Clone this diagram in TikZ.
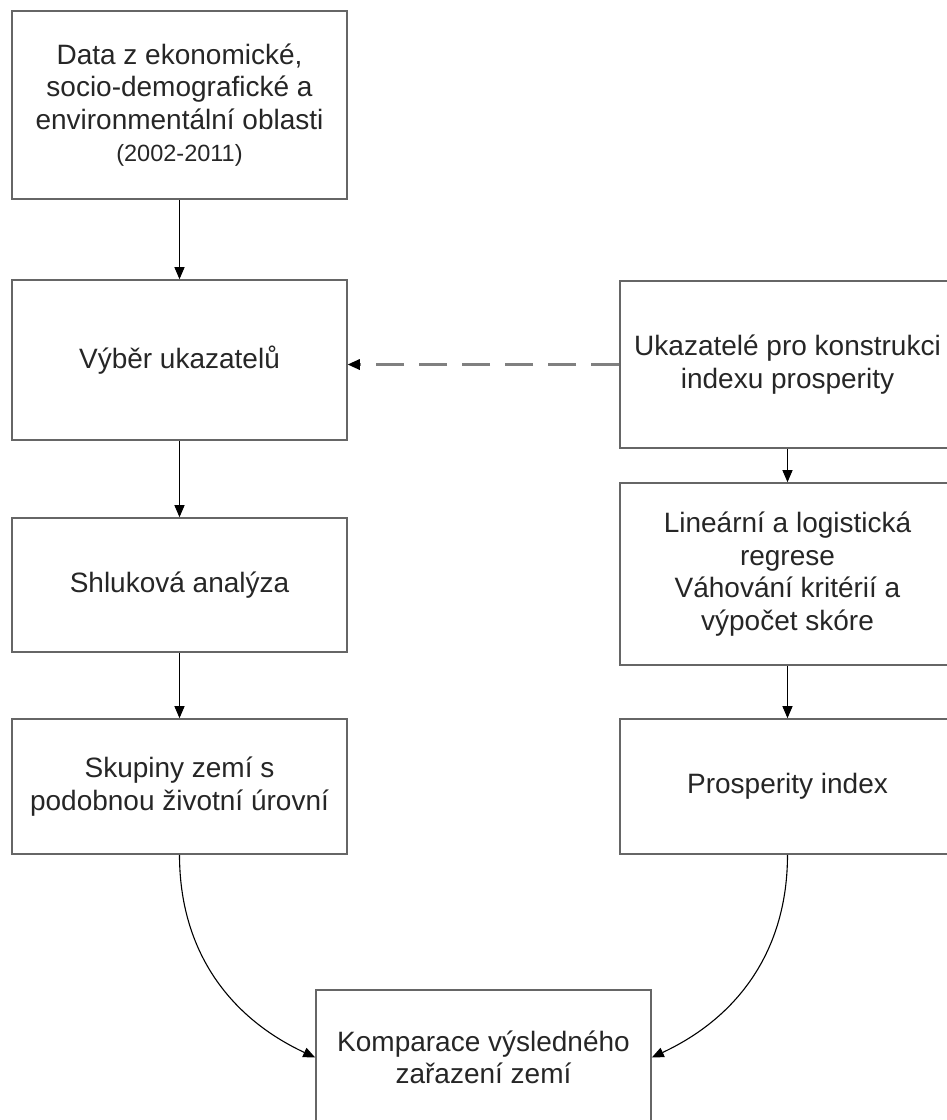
\documentclass[tikz,border=0pt]{standalone}
\usepackage{fontspec}
\setmainfont{Liberation Sans}
\usetikzlibrary{arrows.meta}

\begin{document}
\begin{tikzpicture}[x=1pt, y=-1pt]
		\tikzset{box/.style={rectangle, draw=black!60, line width=1.6pt, minimum width=335pt, align=center, text=black!85, font=\fontsize{28}{32.5}\selectfont},
			arr/.style={line width=1.1pt, -{Triangle[length=12pt, width=10pt]}},
			dsh/.style={draw=black!50, line width=2.6pt, dash pattern=on 28pt off 15pt, -{Triangle[length=12pt, width=11pt, color=black, line width=0pt]}}};

		\clip (0,0) rectangle (947,1120);
		\useasboundingbox (0,0) rectangle (947,1120);

		\node[box, minimum height=188pt] (data) at (179.5, 105) {Data z ekonomické,\\socio-demografické a\\environmentální oblasti\\{\fontsize{23.5}{32.5}\selectfont (2002-2011)}};
		\node[box, minimum height=160pt] (vyber) at (179.5, 360) {Výběr ukazatelů};
		\node[box, minimum height=134pt] (shluk) at (179.5, 585) {Shluková analýza};
		\node[box, minimum height=135pt] (skup) at (179.5, 786.5) {Skupiny zemí s\\podobnou životní úrovní};
		\node[box, minimum height=167pt] (ukaz) at (787.5, 364.5) {Ukazatelé pro konstrukci\\indexu prosperity};
		\node[box, minimum height=182pt] (regr) at (787.5, 574) {Lineární a logistická\\regrese\\Váhování kritérií a\\výpočet skóre};
		\node[box, minimum height=135pt] (prosp) at (787.5, 786.5) {Prosperity index};
		\node[box, minimum height=135pt] (komp) at (483.5, 1057.5) {Komparace výsledného\\zařazení zemí};

		\draw[arr] (data) to (vyber);
		\draw[arr] (vyber) to (shluk);
		\draw[arr] (shluk) to (skup);

		\draw[arr] (ukaz) to (regr);
		\draw[arr] (regr) to (prosp);

		\draw[dsh] (ukaz.west) to (ukaz.west -| vyber.east);

		\draw[arr] (skup.south) to[out=-90, in=155] (komp.west);
		\draw[arr] (prosp.south) to[out=-90, in=25] (komp.east);

	\end{tikzpicture}
\end{document}
